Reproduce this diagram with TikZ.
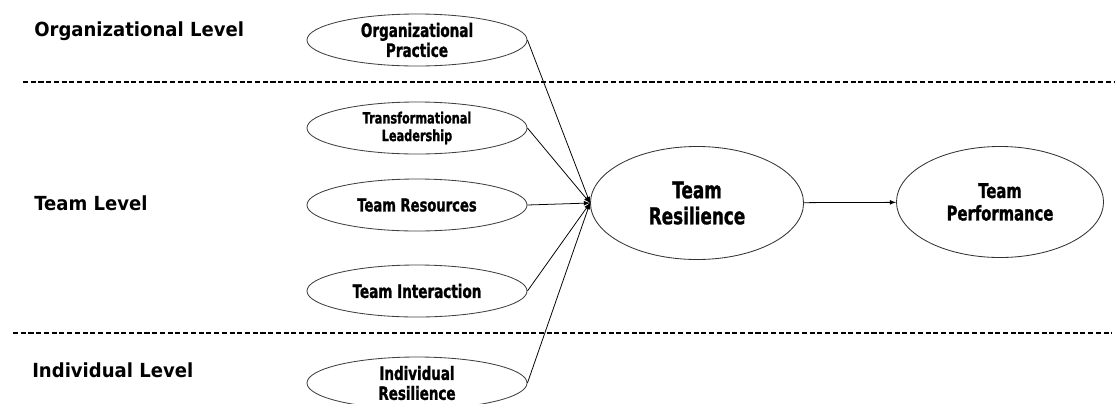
\documentclass[tikz,border=0pt]{standalone}
\usepackage{fontspec}
\setmainfont{DejaVu Sans}
\newfontfamily\lvlfont[FakeStretch=0.93]{DejaVu Sans}
\newfontfamily\ellfont[FakeStretch=0.73, FakeBold=1.2]{DejaVu Sans}
\usetikzlibrary{shapes,arrows}
\def\lvlsize{\lvlfont\bfseries\fontsize{13.8}{16}\selectfont}
\def\ellsize#1#2{\ellfont\bfseries\fontsize{#1}{#2}\selectfont}

\begin{document}
\begin{tikzpicture}[x=0.025cm, y=-0.025cm]
\useasboundingbox (0,0) rectangle (1115,403);
\tikzset{
	level/.style={anchor=west, inner sep=0pt, font=\lvlsize},
	factor/.style={ellipse, draw=black!75, line width=0.6pt, inner sep=-1pt, align=center,
		minimum width=5.5cm, minimum height=1.3cm},
	outcome/.style={ellipse, draw=black!80, line width=0.6pt, inner sep=0pt, align=center},
	sep/.style={line width=0.9pt, dash pattern=on 3.6pt off 1.9pt},
	link/.style={-latex, line width=0.55pt}
}

% levels and the lines between them
\node (orglvl) [level] at (34,31) {Organizational Level};
\node (teamlvl) [level] at (34,203) {Team Level};
\node (indivlvl) [level] at (32,370) {Individual Level};
\draw[sep] (23,82) -- (1115,82);
\draw[sep] (13,333) -- (1112,333);

% antecedents
\node (org) [factor, font=\ellsize{13.2}{14.2}] at (417,40) {Organizational\\Practice};
\node (trans) [factor, font=\ellsize{11}{12.5}] at (417,128) {Transformational\\Leadership};
\node (resrc) [factor, font=\ellsize{12.8}{14}] at (417,205) {Team Resources};
\node (inter) [factor, font=\ellsize{13.2}{14}] at (417,291) {Team Interaction};
\node (indiv) [factor, font=\ellsize{13.1}{14.2}] at (417,383) {Individual\\Resilience};

% outcomes
\node (resil) [outcome, minimum width=5.325cm, minimum height=2.825cm, font=\ellsize{16.4}{18.5}] at (697,203) {Team\\Resilience};
\node (perf) [outcome, minimum width=5.175cm, minimum height=2.775cm, font=\ellsize{14.4}{16}] at (1000,202) {Team\\Performance};

\foreach \n in {org, trans, resrc, inter, indiv}{
	\draw[link] (\n.east) -- (resil.west);
}
\draw[link] (resil) -- (perf);
\end{tikzpicture}
\end{document}
